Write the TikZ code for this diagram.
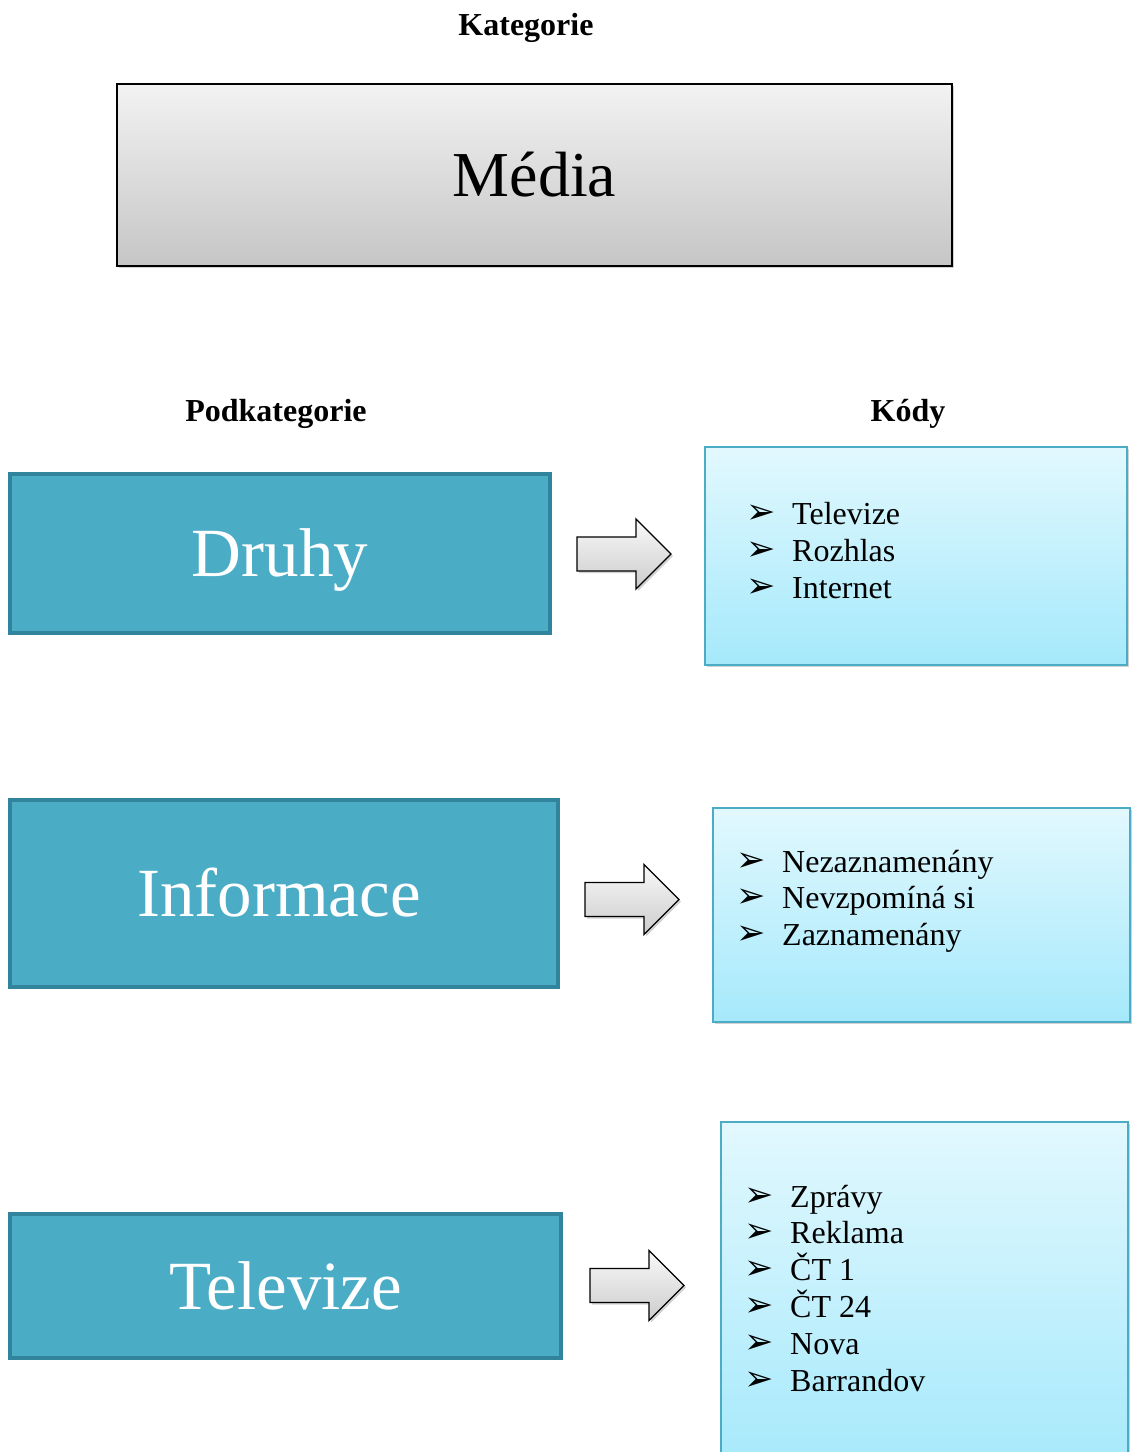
\documentclass[tikz,border=0pt]{standalone}
\usepackage{fontspec}
\setmainfont{Liberation Serif}
\newfontfamily\dejavu{DejaVu Sans}
\usetikzlibrary{shadows}
\definecolor{teal1}{HTML}{4BACC6}
\definecolor{teal2}{HTML}{31849B}
\definecolor{ltop}{HTML}{E2F8FE}
\definecolor{lbot}{HTML}{A5E9FB}
\newcommand{\bul}{\makebox[46pt][l]{\raisebox{1pt}{\dejavu\fontsize{35}{35}\selectfont ➢}}}
\tikzset{
  hdr/.style={font=\bfseries\fontsize{32}{32}\selectfont, anchor=base, inner sep=0},
  catbox/.style={draw=black, line width=1.5pt, top color=gray!10, bottom color=gray!45,
     drop shadow={shadow xshift=2pt, shadow yshift=-2pt, opacity=0.35},
     inner sep=0, font=\fontsize{64}{64}\selectfont, text height=42pt, text depth=0pt},
  subbox/.style={draw=teal2, fill=teal1, line width=4pt, inner sep=0, text=white,
     font=\fontsize{69}{69}\selectfont, text height=46pt, text depth=0pt},
  codebox/.style={draw=teal1, line width=1.5pt, top color=ltop, bottom color=lbot,
     drop shadow={shadow xshift=2pt, shadow yshift=-2pt, opacity=0.35}, inner sep=0},
  item/.style={anchor=base west, inner sep=0, font=\fontsize{32}{32}\selectfont},
  blockarrow/.style={draw=black, line width=1.3pt, top color=gray!5, bottom color=gray!40,
     drop shadow={shadow xshift=2pt, shadow yshift=-2pt, opacity=0.35}}
}
\begin{document}
\begin{tikzpicture}[x=1pt,y=-1pt]
\useasboundingbox (0,0) rectangle (1134,1452);
\fill[white] (0,0) rectangle (1134,1452);

\node[hdr] (kat) at (526,35) {Kategorie};
\node[hdr] (podkat) at (276,421) {Podkategorie};
\node[hdr] (kody) at (908,421) {Kódy};

\node[catbox, minimum width=835pt, minimum height=182pt] (media) at (534.5,175) {Média};

\node[subbox, minimum width=540pt, minimum height=159pt] (druhy) at (280,553.5) {Druhy};
\node[subbox, minimum width=548pt, minimum height=187pt] (info) at (284,893.5) {\hspace*{-10pt}Informace};
\node[subbox, minimum width=551pt, minimum height=144pt] (tv) at (285.5,1286) {Televize};

\node[codebox, minimum width=422pt, minimum height=218pt] (c1) at (916,556) {};
\node[codebox, minimum width=417pt, minimum height=214pt] (c2) at (921.5,915) {};
\node[codebox, minimum width=407pt, minimum height=350pt] (c3) at (924.5,1297) {};

% block arrows
\coordinate (a1) at (577,554);
\coordinate (a2) at (585,899.5);
\coordinate (a3) at (590,1285.5);
\foreach \a in {a1,a2,a3}{
  \path[blockarrow] (\a) ++(0,-17) -- ++(59,0) -- ++(0,-18) -- ++(35,35) -- ++(-35,35)
     -- ++(0,-18) -- ++(-59,0) -- cycle;
}

\foreach \t [count=\i] in {Televize,Rozhlas,Internet}
  \node[item] (c1-\i) at (746,{524+37*(\i-1)}) {\bul\t};
\foreach \t [count=\i] in {Nezaznamenány,Nevzpomíná si,Zaznamenány}
  \node[item] (c2-\i) at (736,{872+36.5*(\i-1)}) {\bul\t};
\foreach \t [count=\i] in {Zprávy,Reklama,ČT 1,ČT 24,Nova,Barrandov}
  \node[item] (c3-\i) at (744,{1207+36.8*(\i-1)}) {\bul\t};
\end{tikzpicture}
\end{document}
